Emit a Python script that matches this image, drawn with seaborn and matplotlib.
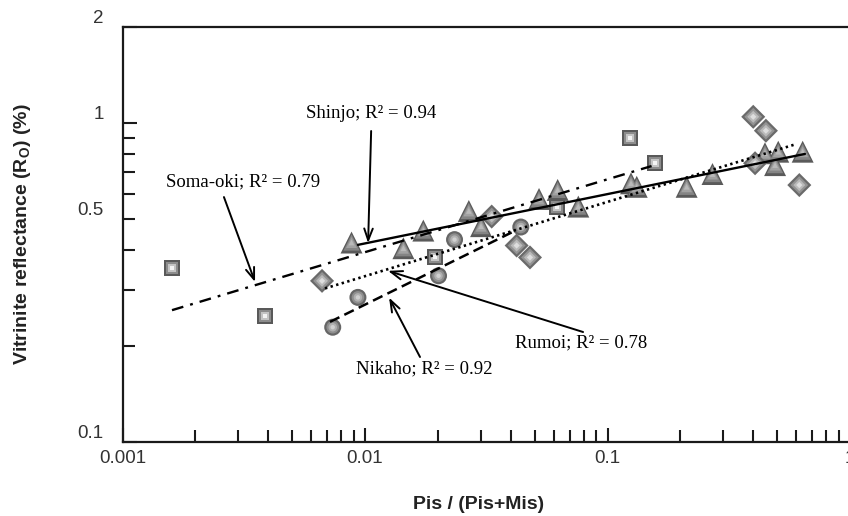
import matplotlib
matplotlib.use('Agg')
import matplotlib.pyplot as plt
from matplotlib.ticker import FixedLocator, FixedFormatter, FuncFormatter, NullFormatter
import seaborn as sns

# Style: plain white background, Arial-like sans for axes, Times-like serif for notes
sns.set_style('white')
plt.rcParams['font.family'] = ['Liberation Sans', 'DejaVu Sans']
plt.rcParams['mathtext.fontset'] = 'custom'
plt.rcParams['mathtext.rm'] = 'Liberation Sans'
plt.rcParams['mathtext.bf'] = 'Liberation Sans:bold'

# ------------------------------------------------------------------------------
# Data: Pis/(Pis+Mis) vs vitrinite reflectance (%)
# ------------------------------------------------------------------------------
soma_x = [0.0016, 0.00387, 0.0194, 0.0617, 0.124, 0.157]
soma_y = [0.351, 0.249, 0.381, 0.547, 0.895, 0.751]

shinjo_x = [0.0088, 0.0144, 0.0174, 0.0268, 0.0301, 0.0522, 0.0623, 0.0758,
            0.125, 0.132, 0.212, 0.271, 0.446, 0.506, 0.491, 0.638]
shinjo_y = [0.422, 0.405, 0.460, 0.530, 0.475, 0.578, 0.617, 0.547,
            0.647, 0.631, 0.631, 0.692, 0.804, 0.813, 0.738, 0.813]

nikaho_x = [0.00736, 0.00935, 0.0201, 0.0234, 0.0439]
nikaho_y = [0.229, 0.284, 0.332, 0.431, 0.472]

rumoi_x = [0.00665, 0.0333, 0.0422, 0.0479, 0.399, 0.450, 0.406, 0.618]
rumoi_y = [0.320, 0.509, 0.413, 0.379, 1.046, 0.946, 0.748, 0.639]

# regression line end points (power-law fits, straight on log-log axes)
soma_fit_x = [0.0016, 0.152]
soma_fit_y = [0.259, 0.733]
shinjo_fit_x = [0.00935, 0.652]
shinjo_fit_y = [0.415, 0.800]
rumoi_fit_x = [0.00684, 0.603]
rumoi_fit_y = [0.303, 0.860]
nikaho_fit_x = [0.00717, 0.0422]
nikaho_fit_y = [0.238, 0.462]

x_major = [0.001, 0.01, 0.1, 1]
x_major_labels = ['0.001', '0.01', '0.1', '1']
y_major = [0.1, 1, 2]
y_major_labels = ['0.1', '1', '2']

# ------------------------------------------------------------------------------
# Figure
# ------------------------------------------------------------------------------
fig = plt.figure(figsize=(8.48, 5.16), dpi=100)
ax = fig.add_axes([122.5 / 848, 74 / 516, 727.5 / 848, 415 / 516])
ax.set_xscale('log')
ax.set_yscale('log')


def shaded_points(xs, ys, marker, size, shades):
    # fake the 3D-gradient look of the original symbols with concentric layers
    fracs = [1.0, 0.74, 0.5, 0.26]
    for frac, shade in zip(fracs, shades):
        sns.scatterplot(x=xs, y=ys, marker=marker, s=size * frac ** 2,
                        color=shade, edgecolor='none', linewidth=0,
                        ax=ax, zorder=2, legend=False)


shaded_points(soma_x, soma_y, 's', 135, ['#595959', '#8c8c8c', '#c4c4c4', '#f4f4f4'])
shaded_points(shinjo_x, shinjo_y, '^', 250, ['#5a5a5a', '#848484', '#a2a2a2', '#bababa'])
shaded_points(nikaho_x, nikaho_y, 'o', 150, ['#666666', '#8e8e8e', '#b0b0b0', '#d0d0d0'])
shaded_points(rumoi_x, rumoi_y, 'D', 150, ['#6a6a6a', '#939393', '#bababa', '#dedede'])

# fitted trends
sns.lineplot(x=shinjo_fit_x, y=shinjo_fit_y, color='black', linewidth=1.7,
             linestyle='-', ax=ax, zorder=3)
sns.lineplot(x=soma_fit_x, y=soma_fit_y, color='black', linewidth=1.7,
             linestyle=(0, (5.0, 3.0, 1.2, 3.0)), ax=ax, zorder=3)
sns.lineplot(x=rumoi_fit_x, y=rumoi_fit_y, color='black', linewidth=1.9,
             linestyle=(0, (0.9, 1.3)), ax=ax, zorder=3)
sns.lineplot(x=nikaho_fit_x, y=nikaho_fit_y, color='black', linewidth=1.8,
             linestyle=(0, (4.2, 2.2)), ax=ax, zorder=3)

# labels with arrows pointing at each regression line
note_font = dict(family=['Liberation Serif', 'DejaVu Serif'], fontsize=13.5,
                 color='black', ha='center', va='center', zorder=5)
arrow = dict(arrowstyle='->,head_length=0.6,head_width=0.22', color='black',
             lw=1.4, mutation_scale=14, shrinkA=0, shrinkB=0)

ax.text(0.0106, 1.072, 'Shinjo; R² = 0.94', **note_font)
ax.annotate('', xy=(0.0103, 0.4205), xytext=(0.0106, 0.944), arrowprops=arrow, zorder=5)

ax.text(0.00314, 0.655, 'Soma-oki; R² = 0.79', **note_font)
ax.annotate('', xy=(0.00352, 0.3174), xytext=(0.00262, 0.586), arrowprops=arrow, zorder=5)

ax.text(0.0781, 0.2043, 'Rumoi; R² = 0.78', **note_font)
ax.annotate('', xy=(0.01244, 0.344), xytext=(0.0793, 0.2212), arrowprops=arrow, zorder=5)

ax.text(0.0175, 0.1694, 'Nikaho; R² = 0.92', **note_font)
ax.annotate('', xy=(0.01257, 0.2835), xytext=(0.01686, 0.1847), arrowprops=arrow, zorder=5)

# axes limits and ticks
ax.set_xlim(0.001, 1)
ax.set_ylim(0.1, 2)

ax.xaxis.set_major_locator(FixedLocator(x_major))
ax.xaxis.set_major_formatter(FixedFormatter(x_major_labels))
ax.xaxis.set_minor_locator(FixedLocator([m * 10.0 ** e for e in (-3, -2, -1) for m in range(2, 10)]))
ax.xaxis.set_minor_formatter(NullFormatter())

ax.yaxis.set_major_locator(FixedLocator(y_major))
ax.yaxis.set_major_formatter(FixedFormatter(y_major_labels))
ax.yaxis.set_minor_locator(FixedLocator([m / 10 for m in range(2, 10)]))
ax.yaxis.set_minor_formatter(FuncFormatter(lambda v, p: '0.5' if abs(v - 0.5) < 1e-9 else ''))

ax.tick_params(which='both', direction='in', width=1.5, color='#1a1a1a',
               labelsize=13.5, labelcolor='#333333',
               bottom=True, left=True, top=False, right=False)
ax.tick_params(which='major', length=10)
ax.tick_params(which='minor', length=8.4)
ax.tick_params(axis='y', which='both', pad=13.5)
ax.tick_params(axis='x', which='both', pad=6)

for side in ['left', 'bottom', 'top', 'right']:
    ax.spines[side].set_linewidth(1.6)
    ax.spines[side].set_color('#1a1a1a')

ax.set_xlabel('Pis / (Pis+Mis)', fontsize=14, fontweight='bold', color='#222222')
ax.set_ylabel(r'Vitrinite reflectance (R$_{\mathbf{O}}$) (%)', fontsize=14,
              fontweight='bold', color='#222222')
ax.xaxis.set_label_coords(0.49, -0.13)
ax.yaxis.set_label_coords(-0.138, 0.5)
ax.yaxis.label.set_va('center')

# y tick labels sit just above their ticks in the original
for lbl in ax.get_yticklabels() + ax.get_yticklabels(minor=True):
    lbl.set_va('bottom')

fig.savefig('out.png', dpi=100)
